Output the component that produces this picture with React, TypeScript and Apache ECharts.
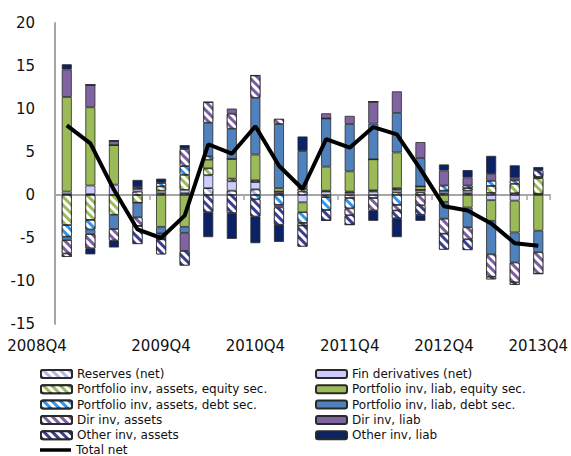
import React, { useEffect, useRef } from "react";
import * as echarts from "echarts";

const quarters = [
  "2008Q4",
  "2009Q1", "2009Q2", "2009Q3", "2009Q4",
  "2010Q1", "2010Q2", "2010Q3", "2010Q4",
  "2011Q1", "2011Q2", "2011Q3", "2011Q4",
  "2012Q1", "2012Q2", "2012Q3", "2012Q4",
  "2013Q1", "2013Q2", "2013Q3", "2013Q4",
];

const reserves = [0.1, 0.1, 0, 0.4, 0.2, 0.2, 0.8, 0.5, 0.65, 0.2, 0.4, -0.25, -0.35, -0.35, 0.3, 0.3, 0.2, 0.2, 0.25, 0.2, 0.15];
const finDerivatives = [0.3, 1.0, 1.2, 0.3, 0.3, 0.4, 1.5, 1.1, 0.85, 0.2, -0.85, 0.4, 0.25, 0.4, 0.3, 0.3, 0.3, 0.3, -0.6, -0.65, 0];
const pfAssetsEquity = [-3.5, -2.9, -2.3, -0.9, 0.5, 1.75, 0.8, 0.3, 0.2, 0, 0.3, 0.1, 0.15, 0.15, 0.2, 0, 0, 0.3, 0.8, 1.1, 1.8];
const pfLiabEquity = [11.0, 9.1, 4.6, 0, -3.7, -3.7, 1.0, 2.3, 3.0, 0.4, -1.15, 2.8, 2.35, 3.6, 4.15, 0.4, -0.8, -1.45, -2.4, -3.7, -4.15];
const pfAssetsDebt = [-1.35, -1.1, 0, 0.2, 0.4, 1.0, 0.4, 0, -0.5, -1.15, -1.25, -1.5, -1.2, 0, -1.15, 0, 0.6, 0.3, 0.6, 0.4, 0.15];
const pfLiabDebt = [-0.4, -0.55, -1.65, -1.7, -0.75, -0.7, 3.9, 3.5, 6.6, 7.45, 4.4, 5.6, 5.5, 4.15, 4.6, 3.3, -1.95, -2.3, -3.9, -3.5, -2.5];
const dirInvAssets = [-1.55, -1.65, -1.35, -1.0, -0.7, 2.0, 2.4, 1.75, 2.6, 0.6, -0.3, 0, -0.8, -1.45, -0.65, -1.2, -1.75, -1.4, -2.6, -2.3, -2.5];
const dirInvLiab = [3.2, 2.6, 0.5, 0, 0, -2.1, 0, 0.6, 0, -0.3, 0, 0.6, 0.95, 2.55, 2.5, 1.85, 1.75, 0.95, 0.8, 0.3, 0];
const otherInvAssets = [-0.4, 0, 0, -2.1, -1.75, -1.7, -2.0, -2.1, -2.0, -2.0, -2.45, -1.2, -1.1, 0, -0.9, -1.1, -1.85, -1.25, -0.3, -0.3, 0.75];
const otherInvLiab = [0.6, -0.7, -0.8, 0.85, 0.5, 0.45, -2.9, -3.0, -3.1, -2.0, 1.7, 0, 0, -1.2, -2.2, -0.7, 0.7, 0.85, 2.1, 1.45, 0.4];
const totalNet = [8.1, 6.0, 0.6, -4.0, -5.0, -2.4, 5.9, 4.8, 8.0, 3.4, 0.7, 6.5, 5.5, 7.9, 7.05, 3.0, -1.3, -1.8, -3.3, -5.6, -5.9];

const FONT = "DejaVu Sans";

function stripes(color: string) {
  return {
    symbol: "rect",
    symbolSize: 1,
    color: "#ffffff",
    backgroundColor: color,
    dashArrayX: [1, 0],
    dashArrayY: [3, 3],
    rotation: Math.PI / 4,
  };
}

type Def = { name: string; data: number[]; color: string; pattern: boolean };

const barDefs: Def[] = [
  { name: "Reserves (net)", data: reserves, color: "#b4b4e8", pattern: true },
  { name: "Fin derivatives (net)", data: finDerivatives, color: "#ccccff", pattern: false },
  { name: "Portfolio inv, assets, equity sec.", data: pfAssetsEquity, color: "#9bbb59", pattern: true },
  { name: "Portfolio inv, liab, equity sec.", data: pfLiabEquity, color: "#9bbb59", pattern: false },
  { name: "Portfolio inv, assets, debt sec.", data: pfAssetsDebt, color: "#2f96f0", pattern: true },
  { name: "Portfolio inv, liab, debt sec.", data: pfLiabDebt, color: "#4f81bd", pattern: false },
  { name: "Dir inv, assets", data: dirInvAssets, color: "#7a5fa0", pattern: true },
  { name: "Dir inv, liab", data: dirInvLiab, color: "#8064a2", pattern: false },
  { name: "Other inv, assets", data: otherInvAssets, color: "#3a3d94", pattern: true },
  { name: "Other inv, liab", data: otherInvLiab, color: "#0c2266", pattern: false },
];

const legendCommon = {
  orient: "vertical",
  padding: 0,
  itemWidth: 31,
  itemHeight: 8,
  itemGap: 3.3,
  textStyle: { fontSize: 12, color: "#111", fontFamily: FONT, lineHeight: 12 },
};

export default function App() {
  const ref = useRef<HTMLDivElement>(null);
  useEffect(() => {
    if (!ref.current) return;
    const chart = echarts.init(ref.current, undefined, { renderer: "svg" });
    const barSeries = barDefs.map((d) => ({
      name: d.name,
      type: "bar",
      stack: "total",
      xAxisIndex: 0,
      barWidth: 10,
      data: d.data,
      itemStyle: {
        color: d.color,
        borderColor: "#2a2a2a",
        borderWidth: 0.8,
        decal: d.pattern ? stripes(d.color) : undefined,
      },
    }));
    const option: any = {
      animation: false,
      textStyle: { fontFamily: FONT },
      grid: { left: 55, right: 18, top: 23, bottom: 132 },
      xAxis: [
        {
          type: "category",
          data: quarters,
          position: "bottom",
          axisLine: { show: false, onZero: false },
          axisTick: { show: false },
          axisLabel: {
            interval: 3,
            fontSize: 15,
            color: "#111",
            fontFamily: FONT,
            margin: 14,
            alignMinLabel: "right",
          },
        },
        {
          type: "category",
          data: quarters,
          position: "bottom",
          axisLine: { show: true, onZero: true, lineStyle: { color: "#a6a6a6", width: 2 } },
          axisTick: { show: true, interval: 3, length: 5, lineStyle: { color: "#a6a6a6", width: 1.5 } },
          axisLabel: { show: false },
        },
      ],
      yAxis: {
        type: "value",
        min: -15,
        max: 20,
        interval: 5,
        axisLine: { show: true, lineStyle: { color: "#a6a6a6", width: 2 } },
        axisTick: { show: false },
        splitLine: { show: false },
        axisLabel: { fontSize: 15, color: "#111", fontFamily: FONT, margin: 20 },
      },
      legend: [
        {
          ...legendCommon,
          left: 40,
          top: 368,
          data: [
            "Reserves (net)",
            "Portfolio inv, assets, equity sec.",
            "Portfolio inv, assets, debt sec.",
            "Dir inv, assets",
            "Other inv, assets",
          ],
        },
        {
          ...legendCommon,
          left: 315,
          top: 368,
          data: [
            "Fin derivatives (net)",
            "Portfolio inv, liab, equity sec.",
            "Portfolio inv, liab, debt sec.",
            "Dir inv, liab",
            "Other inv, liab",
          ],
        },
        {
          ...legendCommon,
          left: 40,
          top: 444,
          itemHeight: 3.5,
          icon: "rect",
          data: ["Total net"],
        },
      ],
      series: [
        ...barSeries,
        {
          name: "Total net",
          type: "line",
          xAxisIndex: 0,
          data: totalNet,
          symbol: "none",
          lineStyle: { color: "#000", width: 4 },
          itemStyle: { color: "#000" },
          z: 5,
        },
      ],
    };
    chart.setOption(option);
    return () => chart.dispose();
  }, []);
  return (
    <div
      ref={ref}
      style={{ position: "fixed", left: 0, top: 0, width: 571, height: 456, background: "#fff" }}
    />
  );
}
